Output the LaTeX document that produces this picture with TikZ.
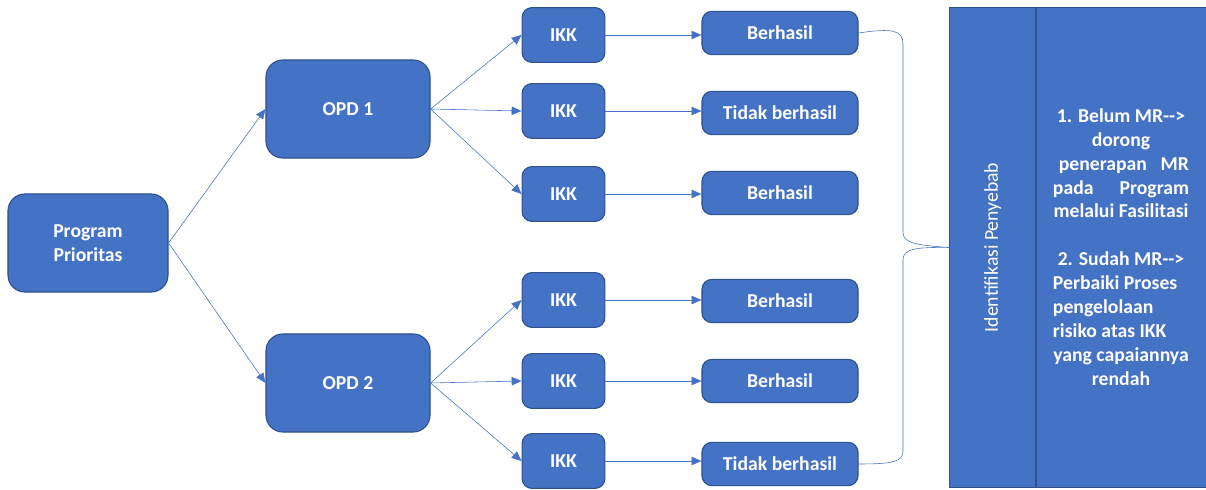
\documentclass[tikz,border=0pt]{standalone}
\usepackage{fontspec}
\setmainfont{Carlito}
\usetikzlibrary{arrows.meta}

\definecolor{boxblue}{HTML}{4472C4}
\definecolor{boxline}{HTML}{2F528F}

\newcommand{\jline}[1]{\makebox[3.4cm]{#1}}
\newcommand{\lline}[1]{\makebox[3.4cm][l]{#1}}

\begin{document}
\begin{tikzpicture}[x=0.025cm, y=-0.025cm, font=\fontsize{14}{17}\selectfont]
    \tikzset{
        box/.style={draw=boxline, fill=boxblue, text=white, thick, rounded corners=7pt,
                    align=center, inner sep=0pt, font=\fontsize{14}{17}\selectfont\bfseries},
        bigbox/.style={box, minimum width=4.1cm, minimum height=2.45cm, rounded corners=12pt},
        ikkbox/.style={box, minimum width=2.07cm, minimum height=1.37cm},
        resbox/.style={box, minimum width=3.9cm, minimum height=1.08cm},
        panel/.style={draw=boxline, fill=boxblue, thick, minimum height=12cm, inner sep=0pt},
        link/.style={draw=boxblue, thin},
        arr/.style={link, -{Triangle[length=7pt,width=6pt]}},
    }
    \useasboundingbox (0,0) rectangle (1206,490);

    \node[bigbox, minimum width=4cm] (prog) at (88,243) {Program\\Prioritas};
    \node[bigbox] (opd1) at (348,109) {OPD 1};
    \node[bigbox] (opd2) at (348,383) {OPD 2};

    \draw[arr] (prog.east) -- (opd1.west);
    \draw[arr] (prog.east) -- (opd2.west);

    %% IKK per OPD and the result of each
    \foreach \i/\y/\ry/\txt/\p in {1/35/33/Berhasil/opd1, 2/111/113/Tidak berhasil/opd1,
            3/194/193/Berhasil/opd1, 4/300/301/Berhasil/opd2,
            5/381/381/Berhasil/opd2, 6/461/464/Tidak berhasil/opd2} {
        \node[ikkbox] (ikk\i) at (563.5,\y) {IKK};
        \node[resbox] (res\i) at (780,\ry) {\txt};
        \draw[arr] (\p.east) -- (ikk\i.west);
        \draw[arr] (ikk\i.east) -- (ikk\i.east -| res\i.west);
    }

    \node[panel, minimum width=2.15cm] (idbox) at (992.5,247.5) {};
    \node[rotate=90, text=white] (idtext) at (idbox.center) {Identifikasi Penyebab};
    \node[panel, minimum width=4.4cm] (solbox) at (1124,247.5) {};
    \node[text=white, align=center, font=\fontsize{14}{17}\selectfont\bfseries] (soltext) at (1121,247)
        {1. Belum MR-{}-{}>\\dorong\\\jline{\hspace{0.3em}penerapan\hfill MR}\\\jline{pada\hfill Program}\\melalui Fasilitasi\\[17pt]
         2. Sudah MR-{}-{}>\\\lline{Perbaiki Proses}\\\lline{pengelolaan}\\\lline{risiko atas IKK}\\yang capaiannya\\rendah};

    %% brace
    \draw[link] (res1.east) .. controls (892,28) and (903,30) .. (903,44) -- (903,232)
        .. controls (903,243) and (915,245) .. (idbox.west)
        .. controls (915,247) and (903,249) .. (903,260) -- (903,451)
        .. controls (903,462) and (892,464) .. (res6.east);
\end{tikzpicture}
\end{document}
